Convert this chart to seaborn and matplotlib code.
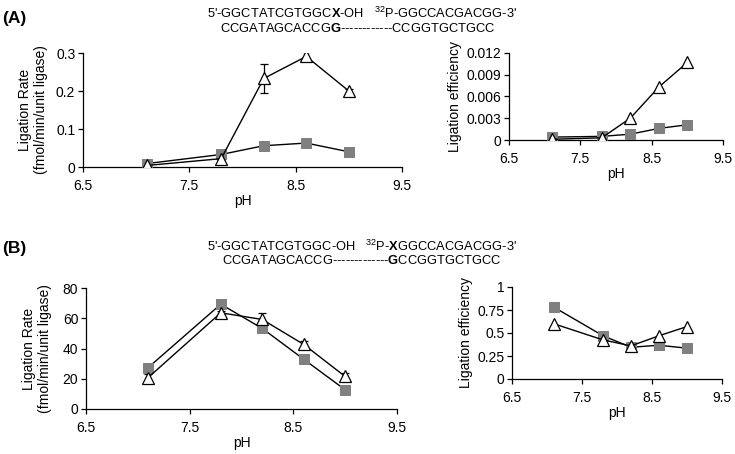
import numpy as np
import pandas as pd
import matplotlib
matplotlib.use("Agg")
import matplotlib.pyplot as plt
import seaborn as sns

sns.set_theme(style="white")
plt.rcParams['font.family'] = ['Liberation Sans', 'DejaVu Sans']
plt.rcParams['mathtext.fontset'] = 'custom'
plt.rcParams['mathtext.rm'] = 'Liberation Sans'
plt.rcParams['mathtext.bf'] = 'Liberation Sans:bold'
plt.rcParams['text.color'] = 'black'
plt.rcParams['axes.labelcolor'] = 'black'
plt.rcParams['xtick.color'] = 'black'
plt.rcParams['ytick.color'] = 'black'

ph = [7.1, 7.8, 8.2, 8.6, 9.0]

# Panel A
a_rate_tri = [0.004, 0.022, 0.233, 0.291, 0.200]
a_rate_tri_err = [0.002, 0.003, 0.038, 0.012, 0.005]
a_rate_sq = [0.009, 0.033, 0.056, 0.063, 0.040]
a_rate_sq_err = [0.001, 0.002, 0.002, 0.002, 0.003]
a_eff_tri = [0.0001, 0.0003, 0.0030, 0.0073, 0.0107]
a_eff_sq = [0.0004, 0.0005, 0.0008, 0.0016, 0.0021]

# Panel B
b_rate_tri = [20.8, 63.6, 59.2, 42.7, 21.5]
b_rate_tri_err = [2.5, 1.0, 4.5, 2.0, 2.0]
b_rate_sq = [27.4, 69.3, 53.3, 32.9, 12.7]
b_rate_sq_err = [0.8, 0.8, 0.8, 1.0, 1.5]
b_eff_tri = [0.60, 0.425, 0.36, 0.47, 0.57]
b_eff_sq = [0.78, 0.47, 0.345, 0.367, 0.335]

xticks = [6.5, 7.5, 8.5, 9.5]
a_rate_yticks = [0, 0.1, 0.2, 0.3]
a_rate_ylabels = ['0', '0.1', '0.2', '0.3']
a_eff_yticks = [0, 0.003, 0.006, 0.009, 0.012]
a_eff_ylabels = ['0', '0.003', '0.006', '0.009', '0.012']
b_rate_yticks = [0, 20, 40, 60, 80]
b_eff_yticks = [0, 0.25, 0.5, 0.75, 1]
b_eff_ylabels = ['0', '0.25', '0.5', '0.75', '1']

GRAY = '#808080'
FS = 10

fig = plt.figure(figsize=(7.35, 4.54), dpi=100)

def px_axes(x0, x1, ytop, ybot):
    W, H = 735, 454
    return fig.add_axes([x0 / W, 1 - ybot / H, (x1 - x0) / W, (ybot - ytop) / H])

def style(ax, yticks, ylabels, ylim, ylabel, lpad):
    ax.set_xlim(6.5, 9.5)
    ax.set_xticks(xticks)
    ax.set_xticklabels([str(t) for t in xticks], fontsize=FS)
    ax.set_ylim(*ylim)
    ax.set_yticks(yticks)
    ax.set_yticklabels(ylabels, fontsize=FS)
    for s in ['top', 'right']:
        ax.spines[s].set_visible(False)
    for s in ['left', 'bottom']:
        ax.spines[s].set_color('black')
        ax.spines[s].set_linewidth(0.9)
    ax.tick_params(axis='both', direction='out', length=3.5, width=0.9, color='black',
                   left=True, bottom=True)
    ax.tick_params(axis='x', pad=5)
    ax.tick_params(axis='y', pad=2)
    ax.set_xlabel('pH', fontsize=FS, labelpad=1)
    ax.set_ylabel(ylabel, fontsize=FS, labelpad=lpad, linespacing=1.15)
    ax.grid(False)
    ax.set_facecolor('white')

def draw(ax, tri, sq, tri_err=None, sq_err=None):
    df_sq = pd.DataFrame({'pH': ph, 'v': sq})
    df_tri = pd.DataFrame({'pH': ph, 'v': tri})
    if sq_err is not None:
        ax.errorbar(ph, sq, yerr=sq_err, fmt='none', ecolor='black', elinewidth=0.9,
                    capsize=3, capthick=0.9, zorder=2)
    if tri_err is not None:
        ax.errorbar(ph, tri, yerr=tri_err, fmt='none', ecolor='black', elinewidth=0.9,
                    capsize=3, capthick=0.9, zorder=2)
    sns.lineplot(data=df_sq, x='pH', y='v', ax=ax, color='black', linewidth=1,
                 marker='s', markersize=7, markerfacecolor=GRAY, markeredgecolor=GRAY,
                 zorder=3, errorbar=None)
    sns.lineplot(data=df_tri, x='pH', y='v', ax=ax, color='black', linewidth=1,
                 marker='^', markersize=8.5, markerfacecolor='white', markeredgecolor='black',
                 markeredgewidth=0.9, zorder=4, errorbar=None)

rate_label = 'Ligation Rate\n(fmol/min/unit ligase)'

ax1 = px_axes(83, 402, 53, 167)
draw(ax1, a_rate_tri, a_rate_sq, a_rate_tri_err, a_rate_sq_err)
style(ax1, a_rate_yticks, a_rate_ylabels, (0, 0.3), rate_label, 6)

ax2 = px_axes(509, 723, 53, 140)
draw(ax2, a_eff_tri, a_eff_sq)
style(ax2, a_eff_yticks, a_eff_ylabels, (0, 0.012), 'Ligation efficiency', 3)

ax3 = px_axes(86, 397, 288, 409)
draw(ax3, b_rate_tri, b_rate_sq, b_rate_tri_err, b_rate_sq_err)
style(ax3, b_rate_yticks, [str(t) for t in b_rate_yticks], (0, 80), rate_label, 8)

ax4 = px_axes(512, 722, 287, 379)
draw(ax4, b_eff_tri, b_eff_sq)
style(ax4, b_eff_yticks, b_eff_ylabels, (0, 1), 'Ligation efficiency', 3)

# Panel labels
fig.text(2 / 735, 1 - 18 / 454, '(A)', fontsize=12.5, fontweight='bold', va='center', ha='left')
fig.text(2 / 735, 1 - 248 / 454, '(B)', fontsize=12.5, fontweight='bold', va='center', ha='left')

# Sequences
SFS = 9.3
fig.text(207 / 735, 1 - 13 / 454, r"5'-GGCTATCGTGGC$\mathbf{X}$-OH   $^{32}$P-GGCCACGACGG-3'",
         fontsize=SFS, va='center', ha='left')
fig.text(220 / 735, 1 - 28 / 454, r"CCGATAGCACCG$\mathbf{G}$------------CCGGTGCTGCC",
         fontsize=SFS, va='center', ha='left')
fig.text(207 / 735, 1 - 246 / 454, r"5'-GGCTATCGTGGC-OH   $^{32}$P-$\mathbf{X}$GGCCACGACGG-3'",
         fontsize=SFS, va='center', ha='left')
fig.text(222 / 735, 1 - 261 / 454, r"CCGATAGCACCG-------------$\mathbf{G}$CCGGTGCTGCC",
         fontsize=SFS, va='center', ha='left')

fig.savefig('out.png', dpi=100, facecolor='white')
